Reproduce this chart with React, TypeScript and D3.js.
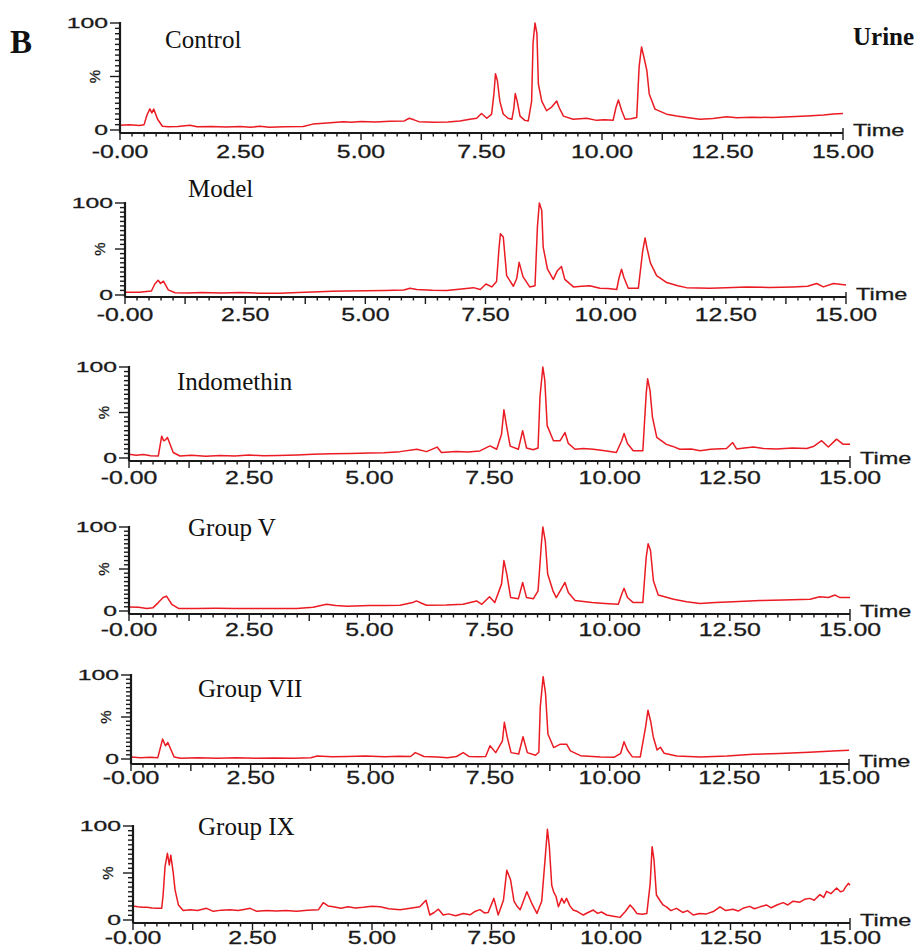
import React from 'react';
import * as d3 from 'd3';

type Pt = [number, number];

// retention time (min) vs relative intensity (%)
const CONTROL: Pt[] = [
  [0, 4.5], [0.2, 4.8], [0.4, 4.2], [0.5, 5], [0.56, 14], [0.62, 19.8], [0.66, 16], [0.7, 19.5], [0.78, 10],
  [0.88, 3.5], [1.0, 3], [1.2, 3.2], [1.45, 4.5], [1.6, 3], [1.9, 3.3], [2.2, 2.8], [2.5, 3.2], [2.7, 2.6],
  [2.9, 3.4], [3.1, 2.5], [3.4, 3], [3.8, 3.2], [4.0, 5.5], [4.3, 6.5], [4.63, 7.8], [4.8, 7.2], [5.0, 8],
  [5.3, 7.5], [5.6, 8.2], [5.9, 8.5], [6.0, 11], [6.1, 9.5], [6.2, 7.8], [6.5, 7.2], [6.8, 7.5], [7.05, 8.5],
  [7.26, 10], [7.4, 11], [7.5, 15.4], [7.61, 11], [7.71, 14.8], [7.76, 35], [7.79, 52.5], [7.83, 46], [7.88, 27],
  [7.95, 15], [8.05, 11], [8.13, 10], [8.17, 20], [8.2, 34], [8.24, 27], [8.3, 13], [8.4, 9], [8.47, 8.5],
  [8.54, 27], [8.57, 81.5], [8.61, 100], [8.65, 90], [8.68, 43], [8.75, 27], [8.85, 18], [8.96, 21.7], [9.06, 27],
  [9.11, 21], [9.2, 13], [9.4, 10], [9.55, 10.5], [9.68, 11], [9.89, 9], [10.05, 9.5], [10.23, 9], [10.29, 21],
  [10.34, 28], [10.41, 18], [10.48, 10], [10.6, 10.5], [10.72, 11.6], [10.77, 59], [10.82, 77.6], [10.87, 68],
  [10.93, 55.7], [10.98, 33.7], [11.1, 19.5], [11.34, 14.8], [11.55, 13], [11.76, 11.6], [12.03, 10], [12.3, 10.8],
  [12.59, 12.3], [12.8, 11.5], [13.1, 12], [13.55, 11.6], [13.9, 12.4], [14.25, 13.2], [14.6, 14], [14.8, 15], [15, 15.4],
];

const MODEL: Pt[] = [
  [0, 3], [0.3, 3], [0.55, 4.4], [0.62, 12], [0.69, 16], [0.74, 12.5], [0.8, 15], [0.9, 5.6], [1.04, 2.5],
  [1.3, 2.2], [1.6, 2.6], [2.0, 2.2], [2.4, 2.8], [2.8, 2], [3.22, 2], [3.6, 2.8], [3.91, 3.3], [4.3, 4],
  [4.61, 4.4], [5.0, 4.6], [5.4, 5], [5.8, 5.5], [5.93, 7.3], [6.07, 6], [6.4, 5.2], [6.69, 5], [7.0, 6.5],
  [7.25, 8], [7.39, 6], [7.51, 12], [7.63, 8.8], [7.73, 14.6], [7.78, 50], [7.81, 66.7], [7.87, 63], [7.94, 21],
  [8.08, 9.5], [8.15, 18], [8.2, 35.5], [8.28, 20], [8.42, 8.8], [8.53, 10], [8.58, 74], [8.62, 100], [8.67, 92],
  [8.7, 52], [8.79, 28], [8.91, 17], [8.99, 26], [9.08, 31], [9.15, 17], [9.33, 8.8], [9.5, 9.5], [9.67, 10],
  [9.88, 7.3], [10.05, 7], [10.23, 6], [10.28, 19], [10.33, 28], [10.38, 19], [10.47, 7.3], [10.68, 7.3],
  [10.77, 47.6], [10.82, 62], [10.86, 51], [10.93, 35], [11.06, 21], [11.27, 13.5], [11.5, 10], [11.68, 8],
  [12.17, 7.3], [12.5, 7.8], [12.93, 8.8], [13.4, 8.2], [13.9, 8.8], [14.2, 9.5], [14.39, 12.5], [14.53, 8.8],
  [14.74, 12.5], [15, 11],
];

const INDOMETHIN: Pt[] = [
  [0, 4], [0.15, 3], [0.3, 3.8], [0.45, 2.6], [0.61, 2.2], [0.68, 24], [0.72, 19], [0.75, 19.6], [0.8, 22.6],
  [0.92, 6], [1.06, 2.2], [1.3, 3], [1.6, 2], [1.9, 2.8], [2.2, 2.2], [2.5, 3.2], [2.8, 2.4], [3.1, 2.8],
  [3.5, 3.4], [3.83, 4], [4.2, 4.8], [4.6, 5], [5.0, 5.4], [5.3, 5.8], [5.64, 7], [5.99, 9.6], [6.19, 7],
  [6.41, 12], [6.5, 6], [6.8, 7.2], [7.05, 6.5], [7.3, 7.8], [7.51, 13.3], [7.65, 9.6], [7.75, 26], [7.8, 53],
  [7.86, 33.7], [7.93, 13], [8.1, 9.6], [8.19, 30], [8.27, 11], [8.41, 9], [8.51, 11], [8.55, 67], [8.61, 100],
  [8.65, 85.6], [8.7, 35.6], [8.83, 19], [8.97, 19], [9.07, 28], [9.14, 16], [9.28, 9.6], [9.45, 10.5], [9.66, 9.6],
  [9.9, 8], [10.14, 6], [10.25, 19], [10.3, 27], [10.37, 16], [10.49, 8], [10.69, 8], [10.76, 70.7], [10.79, 87],
  [10.84, 74], [10.89, 45], [10.98, 22.6], [11.18, 15], [11.3, 13], [11.46, 9.6], [11.7, 10], [11.88, 8],
  [12.1, 9.5], [12.43, 10.4], [12.56, 17], [12.64, 10], [12.8, 11], [12.99, 12], [13.2, 10.5], [13.47, 10],
  [13.8, 11], [14.1, 10.5], [14.25, 13], [14.41, 19], [14.55, 12], [14.72, 20.7], [14.86, 15], [15, 15],
];

const GROUP_V: Pt[] = [
  [0, 4.8], [0.2, 4.5], [0.37, 3], [0.5, 4], [0.61, 10], [0.71, 16], [0.78, 17.7], [0.89, 8], [1.03, 3],
  [1.4, 3], [1.8, 3.2], [2.2, 3], [2.6, 3], [3.0, 3], [3.49, 3], [3.83, 4.4], [4.11, 8], [4.3, 6.5], [4.53, 5.6],
  [5.0, 6.5], [5.3, 6.5], [5.64, 6.8], [5.9, 10], [5.98, 12], [6.1, 9], [6.19, 6.8], [6.6, 7], [6.95, 8],
  [7.23, 12], [7.34, 8], [7.5, 17], [7.61, 10], [7.75, 32], [7.8, 60], [7.86, 44], [7.94, 16], [8.1, 14.5],
  [8.19, 34], [8.27, 16], [8.41, 14.5], [8.51, 24], [8.58, 80], [8.61, 100], [8.66, 83.6], [8.71, 44],
  [8.82, 24], [8.89, 16], [9.0, 27], [9.07, 34], [9.14, 22], [9.28, 12.5], [9.63, 10], [9.9, 9], [10.18, 8],
  [10.25, 20], [10.3, 27], [10.37, 16], [10.49, 10], [10.69, 10], [10.76, 64], [10.8, 80], [10.85, 72],
  [10.91, 36], [11.01, 19], [11.33, 14], [11.6, 11], [11.88, 9], [12.2, 10], [12.57, 11], [13.13, 12.5],
  [13.6, 13], [14.17, 14], [14.37, 17], [14.55, 16], [14.69, 19], [14.79, 16], [15, 16],
];

const GROUP_VII: Pt[] = [
  [0, 2.4], [0.2, 1.6], [0.4, 2.2], [0.56, 1.6], [0.66, 23.7], [0.72, 15.7], [0.77, 19.6], [0.9, 2.4],
  [1.04, 0.8], [1.4, 1.5], [1.8, 0.8], [2.2, 1.4], [2.6, 0.8], [3.0, 1.2], [3.4, 1], [3.76, 1.5], [3.89, 3.6],
  [4.2, 2.8], [4.52, 3], [4.9, 3.5], [5.3, 2.8], [5.6, 3.4], [5.84, 3], [5.94, 7.6], [6.12, 3], [6.4, 2.5],
  [6.61, 1.6], [6.8, 3], [6.94, 7.6], [7.06, 3], [7.25, 2.6], [7.41, 3], [7.5, 15.7], [7.62, 7.6], [7.76, 21.7],
  [7.8, 43.7], [7.86, 26], [7.94, 7.6], [8.1, 6], [8.19, 26.5], [8.28, 7.6], [8.45, 4.5], [8.52, 8], [8.55, 61.8],
  [8.61, 98], [8.66, 78], [8.71, 29.7], [8.83, 13.6], [8.97, 17.7], [9.1, 17.7], [9.18, 9.6], [9.39, 4],
  [9.81, 2.4], [10.09, 2], [10.23, 6.8], [10.3, 20.6], [10.37, 10.7], [10.47, 2.8], [10.64, 2.4], [10.75, 38],
  [10.8, 58], [10.86, 44], [10.91, 26.5], [10.99, 10.7], [11.06, 14], [11.14, 6.8], [11.4, 3.6], [11.9, 2.4],
  [12.45, 3.6], [13.0, 5.6], [13.55, 6.4], [14.17, 8], [14.66, 9.5], [15, 10.3],
];

const GROUP_IX: Pt[] = [
  [0, 14.9], [0.1, 14], [0.2, 13.5], [0.29, 13.5], [0.4, 12.8], [0.5, 12.4], [0.6, 12.4], [0.63, 26.6],
  [0.67, 56.7], [0.72, 71], [0.76, 58.5], [0.79, 69], [0.84, 51], [0.88, 32], [0.95, 16], [1.05, 10],
  [1.2, 11], [1.35, 10], [1.54, 12.4], [1.68, 9.2], [1.85, 10.5], [2.03, 11], [2.2, 10], [2.35, 11.5],
  [2.45, 12.4], [2.59, 9.2], [2.8, 10], [3.0, 9.5], [3.2, 10.2], [3.42, 9.2], [3.65, 10.5], [3.88, 11],
  [3.98, 18.4], [4.08, 15], [4.19, 14], [4.35, 12.5], [4.5, 14], [4.65, 12.8], [4.82, 13.5], [5.0, 14.5],
  [5.17, 14], [5.35, 12], [5.59, 11], [5.8, 12.5], [6.0, 14], [6.13, 21], [6.21, 5.3], [6.3, 8], [6.39, 11.5],
  [6.49, 5.3], [6.6, 6.5], [6.75, 4.5], [6.91, 7], [7.05, 5.5], [7.15, 9], [7.26, 11], [7.35, 7.5], [7.43, 8],
  [7.55, 23], [7.64, 5.3], [7.75, 21], [7.82, 53], [7.9, 42.5], [7.97, 20], [8.03, 15], [8.1, 11], [8.24, 30],
  [8.34, 18], [8.45, 7], [8.55, 20], [8.62, 64], [8.67, 96.5], [8.71, 78], [8.76, 37], [8.8, 30], [8.85, 25],
  [8.9, 14], [8.97, 23], [9.02, 18], [9.07, 23], [9.14, 15], [9.21, 10.6], [9.3, 9], [9.42, 5.3], [9.52, 8],
  [9.63, 10.6], [9.72, 7], [9.8, 8.5], [9.91, 5.3], [10.05, 4], [10.19, 2.8], [10.3, 9], [10.4, 16], [10.47, 12],
  [10.54, 7], [10.65, 6], [10.75, 7], [10.82, 39], [10.86, 78], [10.9, 64], [10.95, 26.6], [11.02, 21],
  [11.09, 16], [11.16, 14], [11.25, 10], [11.37, 12.4], [11.5, 8], [11.6, 10], [11.72, 5.3], [11.85, 7],
  [12.0, 6.5], [12.14, 9], [12.28, 14], [12.4, 10], [12.55, 11.5], [12.66, 9.5], [12.76, 12.4], [12.9, 14.5],
  [13.0, 12], [13.12, 14], [13.25, 16], [13.35, 13], [13.47, 16], [13.6, 18.5], [13.7, 16], [13.81, 20],
  [13.95, 19], [14.05, 22], [14.16, 23], [14.25, 21], [14.37, 27], [14.45, 24], [14.51, 30.5], [14.6, 28],
  [14.72, 34], [14.8, 30], [14.86, 31], [14.92, 36], [14.97, 39], [15, 37],
];

const PANEL_NAMES = ['Control', 'Model', 'Indomethin', 'Group V', 'Group VII', 'Group IX'];
const SERIES = [CONTROL, MODEL, INDOMETHIN, GROUP_V, GROUP_VII, GROUP_IX];
const X_LABEL_VALUES = [0, 2.5, 5, 7.5, 10, 12.5, 15];
const X_TICK_LABELS = ['-0.00', '2.50', '5.00', '7.50', '10.00', '12.50', '15.00'];
const Y_LABELS = [{ v: 0, t: '0' }, { v: 100, t: '100' }];

// pixel frame for every panel
const LAYOUT = [
  { x0: 120, x1: 843, y100: 23, y0: 130, axis: 133, lab: 158, tx: 165, ty: 48 },
  { x0: 125, x1: 846, y100: 203, y0: 295, axis: 297, lab: 321, tx: 188, ty: 197 },
  { x0: 129, x1: 850, y100: 367, y0: 458, axis: 461, lab: 484, tx: 177, ty: 390 },
  { x0: 129, x1: 850, y100: 527, y0: 611, axis: 614, lab: 636, tx: 188, ty: 536 },
  { x0: 131, x1: 849, y100: 675, y0: 759, axis: 764, lab: 784, tx: 198, ty: 697 },
  { x0: 133, x1: 850, y100: 826, y0: 920, axis: 923, lab: 944, tx: 198, ty: 835 },
];

const RED = '#ea1b23';
const INK = '#1a1a1a';
const SANS = '"Liberation Sans", Arial, sans-serif';
const SERIF = '"Liberation Serif", "Times New Roman", serif';

function Panel({ idx }: { idx: number }) {
  const L = LAYOUT[idx];
  const x = d3.scaleLinear().domain([0, 15]).range([L.x0, L.x1]);
  const y = d3.scaleLinear().domain([0, 100]).range([L.y0, L.y100]);
  const line = d3.line<Pt>().x(d => x(d[0])).y(d => y(d[1]));
  const xTicks = d3.range(0, 15.001, 0.25);
  const yTicks = d3.range(0, 100.001, 5);

  return (
    <g>
      <text x={L.tx} y={L.ty} fontFamily={SERIF} fontSize={25} fill="#111">{PANEL_NAMES[idx]}</text>
      <path d={line(SERIES[idx]) || ''} fill="none" stroke={RED} strokeWidth={1.5} strokeLinejoin="round" />
      {/* y axis */}
      <line x1={L.x0} x2={L.x0} y1={L.y100 - 1} y2={L.axis} stroke={INK} strokeWidth={2.2} />
      {yTicks.map(v => {
        const major = v % 50 === 0;
        return <line key={'y' + v} x1={L.x0 - (major ? 10 : 5)} x2={L.x0} y1={y(v)} y2={y(v)} stroke={INK} strokeWidth={1.4} />;
      })}
      {Y_LABELS.map(d => (
        <text key={d.t} transform={`translate(${L.x0 - 12},${y(d.v)}) scale(1.65,1)`} dy="0.36em"
          textAnchor="end" fontFamily={SANS} fontSize={15} fill={INK} stroke={INK} strokeWidth={0.3}>{d.t}</text>
      ))}
      <text transform={`translate(${L.x0 - 25},${y(50)}) rotate(-90)`} dy="0.36em" textAnchor="middle"
        fontFamily={SANS} fontSize={15} fill={INK} stroke={INK} strokeWidth={0.3}>%</text>
      {/* x axis */}
      <line x1={L.x0} x2={L.x1} y1={L.axis} y2={L.axis} stroke={INK} strokeWidth={2.2} />
      {xTicks.map(t => {
        const major = Math.abs(t / 1.25 - Math.round(t / 1.25)) < 1e-6;
        return <line key={'x' + t} x1={x(t)} x2={x(t)} y1={L.axis} y2={L.axis + (major ? 7 : 3.5)} stroke={INK} strokeWidth={1.4} />;
      })}
      <line x1={L.x1} x2={L.x1} y1={L.axis - 5} y2={L.axis} stroke={INK} strokeWidth={1.4} />
      {X_LABEL_VALUES.map((v, i) => (
        <text key={'l' + v} transform={`translate(${x(v)},${L.lab}) scale(1.38,1)`} textAnchor="middle"
          fontFamily={SANS} fontSize={18} fill={INK} stroke={INK} strokeWidth={0.3}>{X_TICK_LABELS[i]}</text>
      ))}
      <text transform={`translate(${L.x1 + 10},${L.axis + 3}) scale(1.38,1)`} fontFamily={SANS} fontSize={17}
        fill={INK} stroke={INK} strokeWidth={0.3}>Time</text>
    </g>
  );
}

export default function App() {
  return (
    <svg width={922} height={947} style={{ position: 'absolute', left: 0, top: 0, background: '#fff' }}>
      <rect width={922} height={947} fill="#fff" />
      <text x={10} y={53} fontFamily={SERIF} fontWeight="bold" fontSize={33} fill="#111">B</text>
      <text x={853} y={45} fontFamily={SERIF} fontWeight="bold" fontSize={25} fill="#111">Urine</text>
      {PANEL_NAMES.map((_, i) => <Panel key={i} idx={i} />)}
    </svg>
  );
}
